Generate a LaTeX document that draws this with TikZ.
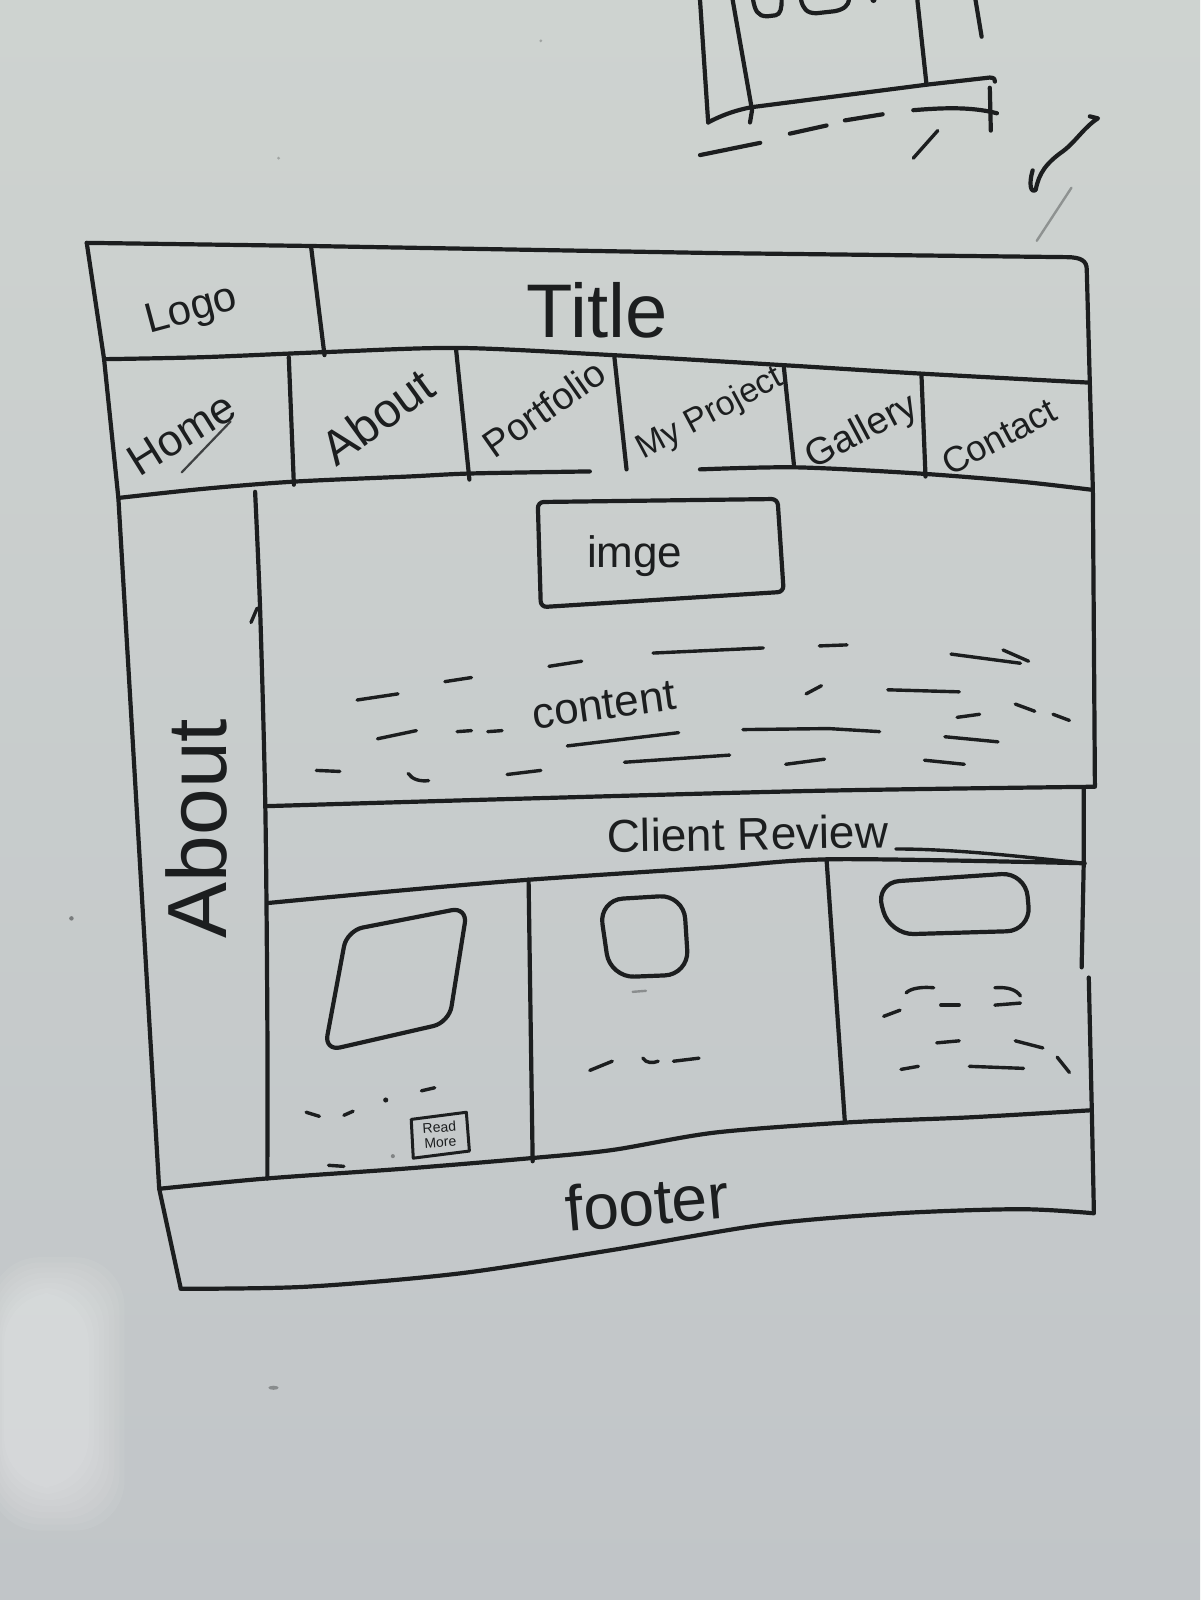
\documentclass[tikz,border=0pt]{standalone}
\usepackage{fontspec}
\setmainfont{Liberation Sans}
\definecolor{inkc}{HTML}{1C1E1F}
\definecolor{bgtop}{HTML}{CED3D0}
\definecolor{bgbot}{HTML}{C1C5C8}
\begin{document}
\begin{tikzpicture}[x=0.5102pt,y=-0.5102pt,
  ink/.style={draw=inkc, line width=2.1pt, line cap=round, line join=round},
  pen/.style={draw=inkc, line width=1.7pt, line cap=round, line join=round},
  faint/.style={draw=inkc, line width=1.2pt, line cap=round, opacity=0.35},
  hand/.style={text=inkc, inner sep=0pt, font=#1},
  hand/.default=\fontsize{20}{22}\selectfont]

% whiteboard
\shade[top color=bgtop, bottom color=bgbot] (0,0) rectangle (1176,1568);
\useasboundingbox (0,0) rectangle (1176,1568);
% reflection on the board
\foreach \i in {0,...,7}
  \fill[white, opacity=0.055, rounded corners=25]
    ({-10+\i*2},{1232+\i*5}) rectangle ({122-\i*5},{1500-\i*6});

% specks on the board
\fill[inkc, opacity=0.45] (70,900) circle (2.2);
\fill[inkc, opacity=0.35] (268,1360) ellipse (5 and 2);
\fill[inkc, opacity=0.25] (530,40) circle (1.5);
\fill[inkc, opacity=0.25] (273,155) circle (1.5);

% ---- older sketch in the corner ----
\draw[ink] (686,0) -- (694,120);
\draw[ink] (718,0) -- (737,108) -- (735,120);
\draw[ink] (738,0) .. controls (740,10) and (742,16) .. (752,16) -- (760,15) .. controls (765,14) and (766,8) .. (766,0);
\draw[ink] (785,0) .. controls (787,8) and (790,13) .. (800,13) -- (818,11) .. controls (828,9) and (831,5) .. (832,0);
\fill[inkc] (856,0) circle (3);
\draw[ink] (899,0) -- (908,83);
\draw[ink] (956,0) -- (962,36);
\draw[ink] (694,120) .. controls (705,114) and (720,108) .. (737,105) -- (908,83) -- (970,76) .. controls (974,76) and (976,78) .. (975,80);
\draw[ink] (970,86) -- (971,128);
\draw[ink] (686,152) -- (745,140);
\draw[ink] (774,131) -- (810,123);
\draw[ink] (828,118) -- (865,112);
\draw[ink] (895,108) .. controls (920,106) and (950,104) .. (977,111);
\draw[pen] (895,155) -- (919,128);
\draw[ink] (1012,167) .. controls (1008,180) and (1010,190) .. (1015,186)
  .. controls (1018,170) and (1025,160) .. (1042,148)
  .. controls (1055,138) and (1062,125) .. (1076,116) -- (1068,114);
\draw[faint] (1016,236) -- (1050,184);

% ---- page frame ----
\draw[ink] (85,238) -- (300,241) -- (700,248) -- (1045,252)
  .. controls (1060,252) and (1065,256) .. (1065,264) -- (1068,375) -- (1071,480) -- (1073,770);
\draw[ink] (1062,772) -- (1062,848) -- (1060,948);
\draw[ink] (1067,958) -- (1070,1090) -- (1072,1188);
\draw[ink] (85,238) -- (102,352) -- (116,488) -- (156,1165) -- (177,1262);
\draw[ink] plot[smooth] coordinates {(177,1263) (300,1261) (450,1248) (600,1225) (750,1200) (880,1189) (1000,1185) (1072,1189)};

% header
\draw[ink] (305,243) -- (318,348);
\draw[ink] plot[smooth] coordinates {(102,352) (200,350) (320,345) (450,341) (600,348) (770,358) (900,366) (1068,375)};
\node[hand=\fontsize{21}{22}\selectfont, rotate=15] (logo) at (188,305) {Logo};
\node[hand=\fontsize{38}{40}\selectfont] (title) at (585,304) {Title};

% navigation bar
\draw[ink] (283,350) -- (288,475);
\draw[ink] (447,343) -- (460,470);
\draw[ink] (602,349) -- (614,460);
\draw[ink] (768,358) -- (778,455);
\draw[ink] (903,367) -- (907,467);
\draw[ink] plot[smooth] coordinates {(116,488) (200,479) (288,472) (400,467) (462,464) (578,462)};
\draw[ink] plot[smooth] coordinates {(686,460) (780,458) (900,464) (1000,472) (1070,480)};
\node[hand=\fontsize{22}{24}\selectfont, rotate=32] (home) at (178,425) {Home};
\draw[inkc, line width=1.1pt, line cap=round, opacity=0.8] (178,463) -- (226,413);
\node[hand=\fontsize{24}{26}\selectfont, rotate=36] (about) at (370,408) {About};
\node[hand=\fontsize{19}{21}\selectfont, rotate=35] (portfolio) at (533,400) {Portfolio};
\node[hand=\fontsize{17}{19}\selectfont, rotate=28] (project) at (696,406) {My Project};
\node[hand=\fontsize{19}{21}\selectfont, rotate=28] (gallery) at (845,424) {Gallery};
\node[hand=\fontsize{18}{20}\selectfont, rotate=28] (contact) at (979,428) {Contact};

% side column
\draw[ink] plot[smooth] coordinates {(250,482) (255,600) (260,790) (262,1000) (262,1155)};
\draw[pen] (246,610) -- (252,596);
\node[hand=\fontsize{42}{44}\selectfont, rotate=90] (side) at (193,812) {About};

% main content
\draw[ink, rounded corners=3] (527,492) -- (762,489) -- (768,580) -- (530,595) -- cycle;
\node[hand=\fontsize{22}{24}\selectfont] (img) at (622,545) {imge};
\node[hand=\fontsize{22}{24}\selectfont, rotate=8] (content) at (592,691) {content};
\foreach \a/\b in {
  {(350,686)}/{(390,680)}, {(436,668)}/{(462,664)}, {(538,653)}/{(570,648)},
  {(640,640)}/{(748,635)}, {(803,633)}/{(830,632)}, {(932,641)}/{(1000,650)},
  {(983,637)}/{(1008,648)}, {(370,724)}/{(408,716)}, {(448,717)}/{(462,716)},
  {(478,717)}/{(492,716)}, {(790,680)}/{(805,672)}, {(870,676)}/{(940,678)},
  {(995,690)}/{(1014,697)}, {(938,703)}/{(960,700)}, {(1032,700)}/{(1048,706)},
  {(556,731)}/{(665,718)}, {(926,722)}/{(978,727)}, {(310,755)}/{(333,756)},
  {(497,759)}/{(530,755)}, {(612,747)}/{(715,740)}, {(770,749)}/{(808,744)},
  {(906,745)}/{(945,749)}}
  \draw[pen] \a -- \b;
\draw[pen] (728,715) -- (812,714) -- (862,717);
\draw[pen] (400,758) .. controls (404,764) and (412,766) .. (420,765);
\draw[ink] plot[smooth] coordinates {(262,790) (500,783) (800,775) (1073,771)};

% client review strip
\node[hand=\fontsize{23}{25}\selectfont, rotate=1] (review) at (733,817) {Client Review};
\draw[ink] plot[smooth] coordinates {(262,885) (400,872) (520,862) (700,850) (820,842) (1063,846)};
\draw[pen] (878,832) .. controls (930,832) and (990,838) .. (1062,846);

% review cards
\draw[ink] (518,862) -- (522,1138);
\draw[ink] (810,842) -- (828,1100);
\draw[ink, rounded corners=8] (340,912) -- (458,889) -- (440,1002) -- (318,1030) -- cycle;
\draw[ink, rounded corners=12] (587,882) -- (670,877) -- (675,955) -- (598,958) -- cycle;
\draw[ink, rounded corners=12] (858,865) -- (1005,855) -- (1010,912) -- (872,916) -- cycle;
\foreach \a/\b in {
  {(300,1090)}/{(313,1094)}, {(337,1093)}/{(346,1089)}, {(413,1069)}/{(426,1066)},
  {(322,1142)}/{(337,1143)}, {(578,1049)}/{(600,1040)}, {(660,1040)}/{(685,1037)},
  {(922,985)}/{(940,985)}, {(975,985)}/{(1000,983)}, {(866,996)}/{(882,990)},
  {(918,1022)}/{(940,1020)}, {(995,1020)}/{(1022,1027)}, {(883,1048)}/{(900,1045)},
  {(950,1045)}/{(1003,1047)}, {(1036,1036)}/{(1048,1051)}}
  \draw[pen] \a -- \b;
\draw[pen] (630,1037) .. controls (633,1042) and (640,1042) .. (645,1040);
\draw[pen] (888,973) .. controls (893,968) and (905,967) .. (915,968);
\draw[pen] (975,968) .. controls (988,967) and (996,970) .. (1000,976);
\fill[inkc] (378,1078) circle (2.5);
\fill[inkc, opacity=0.4] (385,1133) circle (2);
\draw[faint] (620,972) -- (633,971);
\draw[pen, line width=1.5pt] (403,1097) -- (457,1090) -- (460,1128) -- (405,1135) -- cycle;
\node[hand=\fontsize{7}{7.5}\selectfont, align=center, rotate=4] (more) at (431,1112) {Read\\More};

% footer
\draw[ink] plot[smooth] coordinates {(156,1165) (260,1155) (400,1145) (520,1135) (600,1127) (700,1110) (830,1100) (950,1095) (1070,1088)};
\node[hand=\fontsize{32}{34}\selectfont, rotate=5] (footer) at (634,1178) {footer};
\end{tikzpicture}
\end{document}
